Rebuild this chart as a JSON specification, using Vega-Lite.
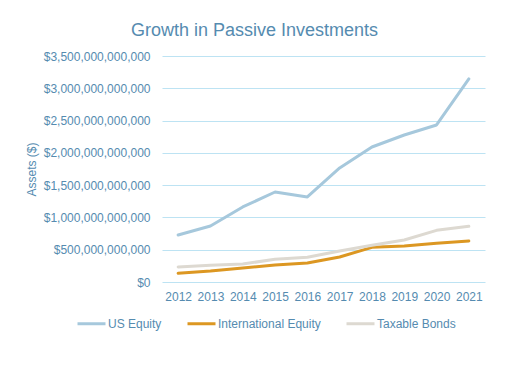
{
  "$schema": "https://vega.github.io/schema/vega-lite/v6.json",
  "width": 323,
  "height": 226,
  "autosize": "none",
  "padding": {"left": 162, "top": 56, "right": 27, "bottom": 85},
  "background": "white",
  "title": {
    "text": "Growth in Passive Investments",
    "anchor": "middle",
    "frame": "group",
    "dx": -69,
    "fontSize": 18,
    "font": "Liberation Sans",
    "fontWeight": "normal",
    "color": "#558bb0",
    "offset": 10
  },
  "data": {
    "values": [
      {"year": "2012", "series": "US Equity", "assets": 728000000000},
      {"year": "2013", "series": "US Equity", "assets": 867000000000},
      {"year": "2014", "series": "US Equity", "assets": 1162000000000},
      {"year": "2015", "series": "US Equity", "assets": 1394000000000},
      {"year": "2016", "series": "US Equity", "assets": 1317000000000},
      {"year": "2017", "series": "US Equity", "assets": 1766000000000},
      {"year": "2018", "series": "US Equity", "assets": 2091000000000},
      {"year": "2019", "series": "US Equity", "assets": 2277000000000},
      {"year": "2020", "series": "US Equity", "assets": 2432000000000},
      {"year": "2021", "series": "US Equity", "assets": 3145000000000},
      {"year": "2012", "series": "International Equity", "assets": 135000000000},
      {"year": "2013", "series": "International Equity", "assets": 170000000000},
      {"year": "2014", "series": "International Equity", "assets": 217000000000},
      {"year": "2015", "series": "International Equity", "assets": 263000000000},
      {"year": "2016", "series": "International Equity", "assets": 294000000000},
      {"year": "2017", "series": "International Equity", "assets": 387000000000},
      {"year": "2018", "series": "International Equity", "assets": 537000000000},
      {"year": "2019", "series": "International Equity", "assets": 558000000000},
      {"year": "2020", "series": "International Equity", "assets": 599000000000},
      {"year": "2021", "series": "International Equity", "assets": 635000000000},
      {"year": "2012", "series": "Taxable Bonds", "assets": 232000000000},
      {"year": "2013", "series": "Taxable Bonds", "assets": 258000000000},
      {"year": "2014", "series": "Taxable Bonds", "assets": 279000000000},
      {"year": "2015", "series": "Taxable Bonds", "assets": 351000000000},
      {"year": "2016", "series": "Taxable Bonds", "assets": 382000000000},
      {"year": "2017", "series": "Taxable Bonds", "assets": 480000000000},
      {"year": "2018", "series": "Taxable Bonds", "assets": 568000000000},
      {"year": "2019", "series": "Taxable Bonds", "assets": 650000000000},
      {"year": "2020", "series": "Taxable Bonds", "assets": 800000000000},
      {"year": "2021", "series": "Taxable Bonds", "assets": 862000000000}
    ]
  },
  "mark": {"type": "line", "strokeWidth": 3, "strokeCap": "round", "strokeJoin": "round"},
  "encoding": {
    "x": {
      "field": "year",
      "type": "ordinal",
      "scale": {"type": "point", "padding": 0.5},
      "axis": {
        "title": null,
        "labelAngle": 0,
        "grid": false,
        "domain": false,
        "ticks": false,
        "labelPadding": 9,
        "labelFontSize": 12,
        "labelFont": "Liberation Sans",
        "labelColor": "#558bb0"
      }
    },
    "y": {
      "field": "assets",
      "type": "quantitative",
      "scale": {"domain": [0, 3500000000000], "nice": false},
      "axis": {
        "title": "Assets ($)",
        "values": [0, 500000000000, 1000000000000, 1500000000000, 2000000000000, 2500000000000, 3000000000000, 3500000000000],
        "format": "$,.0f",
        "grid": true,
        "gridColor": "#bde3f3",
        "gridWidth": 1,
        "domain": false,
        "ticks": false,
        "tickSize": 0,
        "labelPadding": 12,
        "labelFontSize": 12,
        "labelFont": "Liberation Sans",
        "labelColor": "#558bb0",
        "titleFont": "Liberation Sans",
        "titleFontSize": 12,
        "titleFontWeight": "normal",
        "titleColor": "#558bb0",
        "titlePadding": 5
      }
    },
    "color": {
      "field": "series",
      "type": "nominal",
      "scale": {
        "domain": ["US Equity", "International Equity", "Taxable Bonds"],
        "range": ["#a6c8dc", "#dc9722", "#ddd9d1"]
      },
      "legend": {
        "title": null,
        "orient": "none",
        "direction": "horizontal",
        "legendX": -86,
        "legendY": 252,
        "symbolType": "stroke",
        "symbolSize": 784,
        "symbolStrokeWidth": 3,
        "labelFont": "Liberation Sans",
        "labelFontSize": 12,
        "labelColor": "#558bb0",
        "labelOffset": 1,
        "columnPadding": 19
      }
    }
  },
  "config": {
    "view": {"stroke": null}
  }
}
